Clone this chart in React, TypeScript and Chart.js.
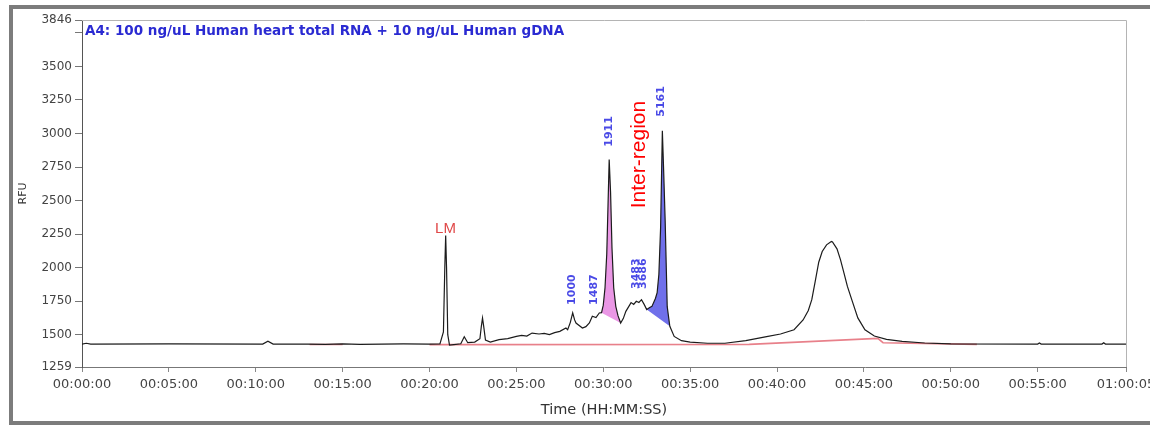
import React, { useEffect, useRef } from "react";
import { Chart, registerables } from "chart.js";

Chart.register(...registerables);

// ---- Data (time in minutes, signal in RFU) ----
const traceTime = [
  0.0, 0.25, 0.5, 5.0, 10.4, 10.7, 11.0, 13.0, 14.0, 15.0, 16.0, 18.5, 20.0, 20.6, 20.8, 20.88, 20.93, 20.98,
  21.05, 21.15, 21.4, 21.8, 22.0, 22.2, 22.6, 22.9, 22.98, 23.05, 23.12, 23.22, 23.5, 24.0, 24.5, 25.0, 25.3,
  25.6, 25.9, 26.3, 26.6, 26.9, 27.2, 27.5, 27.85, 27.95, 28.1, 28.24, 28.35, 28.43, 28.8, 29.0, 29.2, 29.37,
  29.58, 29.77, 29.9, 30.0, 30.1, 30.2, 30.27, 30.34, 30.42, 30.5, 30.6, 30.72, 30.85, 31.0, 31.15, 31.3, 31.6,
  31.75, 31.9, 32.05, 32.2, 32.36, 32.5, 32.65, 32.8, 33.0, 33.1, 33.2, 33.3, 33.4, 33.48, 33.56, 33.68, 33.83,
  34.08, 34.5, 35.0, 36.0, 37.0, 38.2, 39.4, 40.2, 40.98, 41.5, 41.8, 42.0, 42.2, 42.4, 42.6, 42.85, 43.1,
  43.15, 43.2, 43.45, 43.65, 43.85, 44.05, 44.3, 44.65, 45.06, 45.6, 46.3, 47.2, 48.5, 50.0, 55.0, 55.1, 55.2,
  58.7, 58.8, 58.9, 60.0833,
];
const traceRfu = [
  1430, 1436, 1430, 1431, 1430, 1452, 1430, 1430, 1427, 1431, 1428, 1431, 1430, 1432, 1520, 2000, 2240, 2000,
  1500, 1422, 1426, 1432, 1485, 1440, 1445, 1470, 1560, 1624, 1560, 1460, 1445, 1463, 1470, 1487, 1495,
  1490, 1512, 1505, 1510, 1500, 1515, 1525, 1550, 1537, 1590, 1662, 1610, 1587, 1550, 1560, 1587, 1637,
  1627, 1662, 1664, 1720, 1850, 2100, 2450, 2806, 2560, 2150, 1850, 1711, 1640, 1587, 1620, 1674, 1739,
  1725, 1749, 1740, 1761, 1724, 1687, 1700, 1711, 1770, 1813, 1950, 2300, 3020, 2700, 2358, 1709, 1562,
  1487, 1455, 1445, 1436, 1436, 1455, 1485, 1505, 1537, 1610, 1680, 1761, 1900, 2040, 2120, 2170, 2192,
  2195, 2190, 2140, 2060, 1960, 1860, 1761, 1625, 1537, 1490, 1465, 1450, 1438, 1432, 1430, 1438, 1430,
  1430, 1440, 1430, 1430,
];

const baselineTime = [13.1, 15.0, 17.0, 20.0, 38.4, 45.8, 46.1, 51.5];
const baselineRfu = [1427, 1427, null, 1426, 1428, 1472, 1440, 1428];

const pinkRange = [29.9, 31.0];
const blueRange = [32.5, 33.83];

const xTickMinutes = [0, 5, 10, 15, 20, 25, 30, 35, 40, 45, 50, 55, 60.0833];
const yTickValues = [1259, 1500, 1750, 2000, 2250, 2500, 2750, 3000, 3250, 3500, 3750, 3846];
const yHiddenLabels = [3750];

const peakLabelText = ["1000", "1487", "1911", "3483", "3686", "5161"];
const peakLabelTime = [28.2, 29.45, 30.34, 31.92, 32.28, 33.35];
const peakLabelRfu = [1836, 1836, 3015, 1955, 1955, 3239];

const markerText = "LM";
const markerTime = 20.92;
const markerRfu = 2291;

const regionText = "Inter-region";
const regionTime = 32.05;
const regionRfu = 2843;

const titleText = "A4: 100 ng/uL Human heart total RNA + 10 ng/uL Human gDNA";

// ---- helpers ----
function fmtTime(min: number): string {
  const total = Math.round(min * 60);
  const h = Math.floor(total / 3600);
  const m = Math.floor((total % 3600) / 60);
  const s = total % 60;
  const p = (n: number) => String(n).padStart(2, "0");
  return `${p(h)}:${p(m)}:${p(s)}`;
}

function pts(ts: number[], vs: (number | null)[]) {
  return ts.map((t, i) => ({ x: t, y: vs[i] === null ? NaN : (vs[i] as number) }));
}

function segment(range: number[]) {
  const out: { x: number; y: number }[] = [];
  traceTime.forEach((t, i) => {
    if (t >= range[0] - 1e-9 && t <= range[1] + 1e-9) out.push({ x: t, y: traceRfu[i] });
  });
  return out;
}

function chord(range: number[]) {
  const s = segment(range);
  return [s[0], s[s.length - 1]];
}

const annotationPlugin = {
  id: "peakAnnotations",
  beforeDatasetsDraw(chart: any) {
    const { ctx, chartArea } = chart;
    ctx.save();
    ctx.strokeStyle = "#b4b4b4";
    ctx.lineWidth = 1;
    ctx.beginPath();
    ctx.moveTo(chartArea.left, chartArea.top + 0.5);
    ctx.lineTo(chartArea.right + 0.5, chartArea.top + 0.5);
    ctx.lineTo(chartArea.right + 0.5, chartArea.bottom);
    ctx.stroke();
    ctx.restore();
  },
  afterDatasetsDraw(chart: any) {
    const { ctx, chartArea } = chart;
    const xs = chart.scales.x;
    const ys = chart.scales.y;
    ctx.save();
    // sample title
    ctx.font = "bold 13.5px 'DejaVu Sans'";
    ctx.fillStyle = "#2a2ad2";
    ctx.textAlign = "left";
    ctx.textBaseline = "middle";
    ctx.fillText(titleText, chartArea.left + 3, chartArea.top + 11);

    // LM marker
    ctx.font = "15px 'Liberation Sans'";
    ctx.fillStyle = "#e04848";
    ctx.textAlign = "center";
    ctx.fillText(markerText, xs.getPixelForValue(markerTime), ys.getPixelForValue(markerRfu));

    // rotated peak labels
    ctx.font = "bold 11px 'DejaVu Sans'";
    ctx.fillStyle = "#4a4ae6";
    peakLabelText.forEach((txt, i) => {
      ctx.save();
      ctx.translate(xs.getPixelForValue(peakLabelTime[i]), ys.getPixelForValue(peakLabelRfu[i]));
      ctx.rotate(-Math.PI / 2);
      ctx.textAlign = "center";
      ctx.textBaseline = "middle";
      ctx.fillText(txt, 0, 0);
      ctx.restore();
    });

    // region label
    ctx.save();
    ctx.font = "21px 'Liberation Sans'";
    ctx.fillStyle = "#ff0000";
    ctx.translate(xs.getPixelForValue(regionTime), ys.getPixelForValue(regionRfu));
    ctx.rotate(-Math.PI / 2);
    ctx.textAlign = "center";
    ctx.textBaseline = "middle";
    ctx.fillText(regionText, 0, 0);
    ctx.restore();

    ctx.restore();
  },
};

export default function App() {
  const canvasRef = useRef<HTMLCanvasElement | null>(null);

  useEffect(() => {
    if (!canvasRef.current) return;
    const chart = new Chart(canvasRef.current, {
      type: "line",
      data: {
        datasets: [
          {
            data: pts(traceTime, traceRfu),
            borderColor: "#1c1c1c",
            borderWidth: 1.2,
            pointRadius: 0,
            fill: false,
            tension: 0,
            order: 0,
          },
          {
            data: pts(baselineTime, baselineRfu),
            borderColor: "#e8808a",
            borderWidth: 1.6,
            pointRadius: 0,
            fill: false,
            spanGaps: false,
            order: 1,
          },
          {
            data: segment(pinkRange),
            borderWidth: 0,
            borderColor: "rgba(0,0,0,0)",
            backgroundColor: "rgba(232,140,226,0.9)",
            pointRadius: 0,
            fill: 3,
            order: 2,
          },
          {
            data: chord(pinkRange),
            borderWidth: 0,
            borderColor: "rgba(0,0,0,0)",
            pointRadius: 0,
            fill: false,
            order: 3,
          },
          {
            data: segment(blueRange),
            borderWidth: 0,
            borderColor: "rgba(0,0,0,0)",
            backgroundColor: "rgba(96,96,232,0.9)",
            pointRadius: 0,
            fill: 5,
            order: 4,
          },
          {
            data: chord(blueRange),
            borderWidth: 0,
            borderColor: "rgba(0,0,0,0)",
            pointRadius: 0,
            fill: false,
            order: 5,
          },
        ],
      },
      options: {
        animation: false,
        responsive: false,
        maintainAspectRatio: false,
        layout: { padding: { left: 13, top: 20, right: 24, bottom: 6 } },
        plugins: {
          legend: { display: false },
          tooltip: { enabled: false },
          title: { display: false },
        },
        scales: {
          x: {
            type: "linear",
            min: 0,
            max: 60.0833,
            afterBuildTicks: (s: any) => {
              s.ticks = xTickMinutes.map((v) => ({ value: v }));
            },
            afterFit: (s: any) => {
              s.height = 53;
              s.paddingLeft = 0;
              s.paddingRight = 0;
            },
            ticks: {
              callback: (v: any) => fmtTime(Number(v)),
              font: { family: "'DejaVu Sans'", size: 13 },
              color: "#444",
              padding: 5,
              maxRotation: 0,
              autoSkip: false,
            },
            grid: { drawOnChartArea: false, drawTicks: true, tickLength: 5, color: "#888" },
            border: { display: true, color: "#777" },
            title: {
              display: true,
              text: "Time (HH:MM:SS)",
              font: { family: "'DejaVu Sans'", size: 14.5 },
              color: "#333",
              padding: { top: 0, bottom: 1 },
            },
          },
          y: {
            type: "linear",
            min: 1259,
            max: 3846,
            afterBuildTicks: (s: any) => {
              s.ticks = yTickValues.map((v) => ({ value: v }));
            },
            afterFit: (s: any) => {
              s.width = 69;
              s.paddingTop = 0;
              s.paddingBottom = 0;
            },
            ticks: {
              callback: (v: any) => (yHiddenLabels.includes(Number(v)) ? "" : String(v)),
              font: { family: "'DejaVu Sans'", size: 12 },
              color: "#444",
              padding: 3,
              autoSkip: false,
            },
            grid: { drawOnChartArea: false, drawTicks: true, tickLength: 7, color: "#777" },
            border: { display: true, color: "#555" },
            title: {
              display: true,
              text: "RFU",
              font: { family: "'DejaVu Sans'", size: 11 },
              color: "#333",
              padding: { top: 4, bottom: 4 },
            },
          },
        },
      },
      plugins: [annotationPlugin],
    } as any);
    return () => chart.destroy();
  }, []);

  return (
    <div
      style={{
        position: "fixed",
        left: 0,
        top: 0,
        width: 1150,
        height: 426,
        background: "#fff",
        overflow: "hidden",
      }}
    >
      <div
        style={{
          position: "absolute",
          left: 9,
          top: 5,
          width: 1160,
          height: 412,
          border: "4px solid #7c7c7c",
          borderRight: "none",
        }}
      />
      <canvas
        ref={canvasRef}
        width={1150}
        height={426}
        style={{ position: "absolute", left: 0, top: 0, width: 1150, height: 426 }}
      />
    </div>
  );
}
